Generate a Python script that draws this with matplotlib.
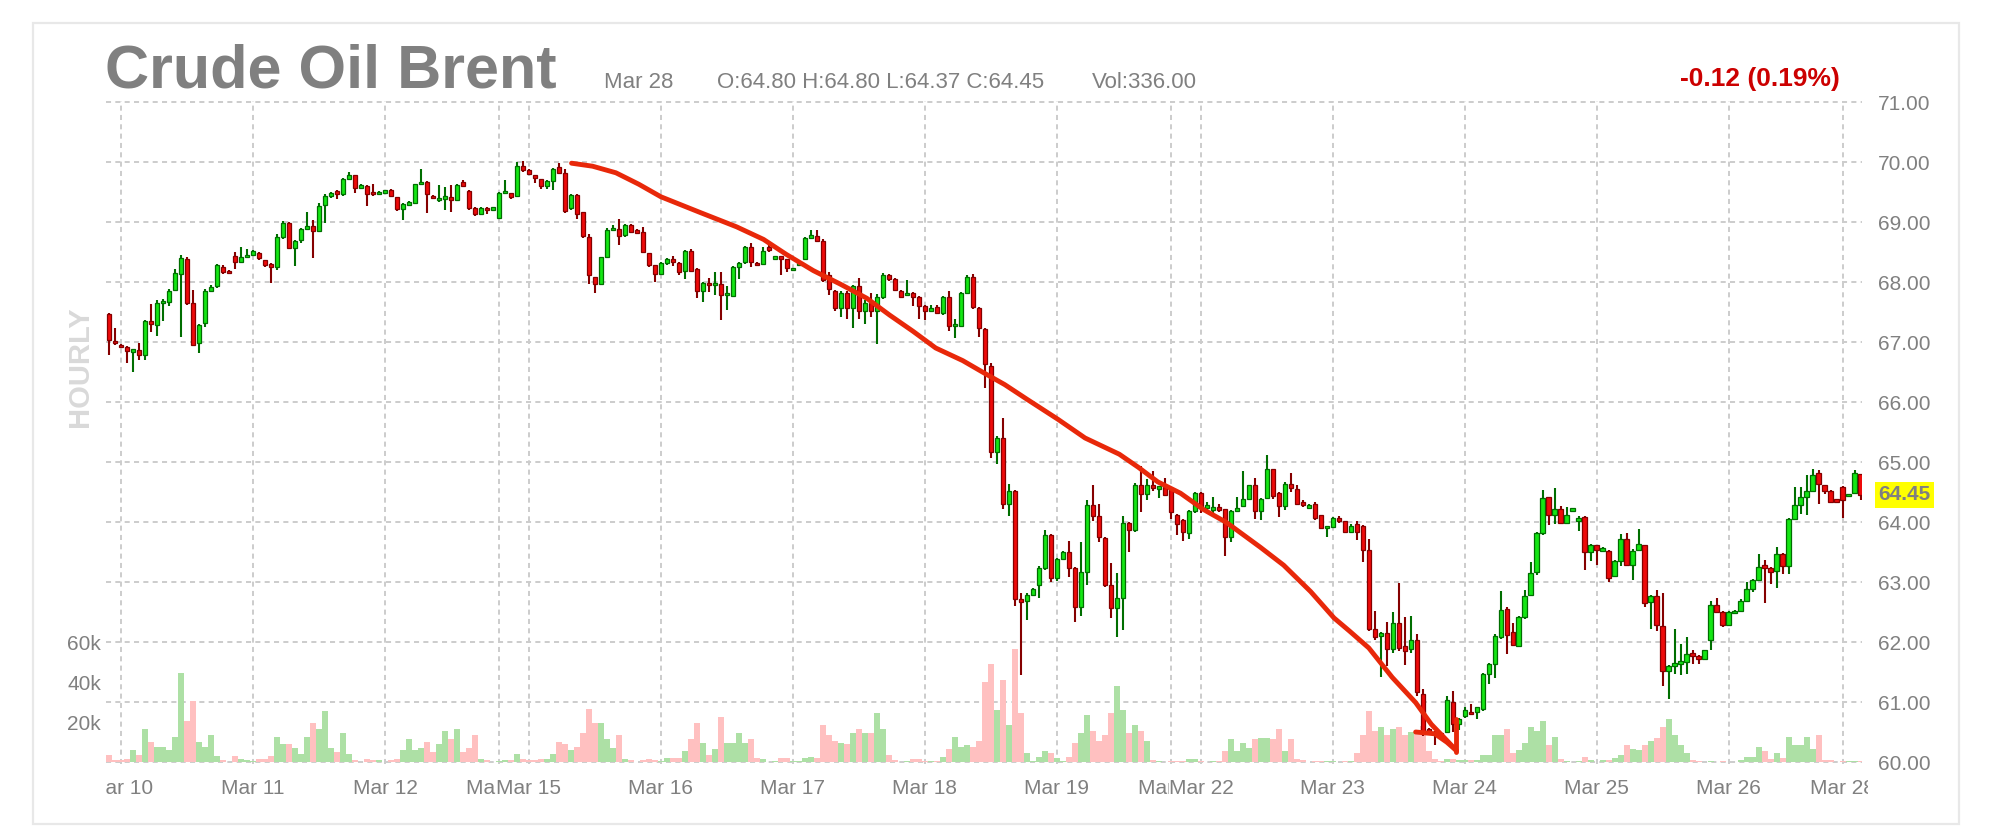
import matplotlib
matplotlib.use("Agg")
import matplotlib.pyplot as plt
from matplotlib.patches import Rectangle
import numpy as np

W, H = 2010, 840
plt.rcParams['font.family'] = ['Liberation Sans', 'DejaVu Sans']

# ---------------- data (hourly candles, index = hour slot) ----------------
opens = [
    67.46, 67.02, 66.95, 66.92, 66.84, 66.86, 66.78, 67.35, 67.28, 67.66,
    67.67, 67.87, 68.14, 68.38, 67.65, 66.98, 67.31, 67.85, 67.93, 68.25,
    68.18, 68.44, 68.34, 68.41, 68.45, 68.48, 68.36, 68.30, 68.25, 68.75,
    68.98, 68.57, 68.70, 68.88, 68.94, 68.85, 69.28, 69.44, 69.51, 69.47,
    69.72, 69.78, 69.57, 69.60, 69.49, 69.47, 69.50, 69.54, 69.41, 69.22,
    69.30, 69.32, 69.63, 69.67, 69.44, 69.38, 69.40, 69.42, 69.37, 69.66,
    69.52, 69.24, 69.14, 69.24, 69.22, 69.07, 69.49, 69.48, 69.44, 69.94,
    69.87, 69.78, 69.71, 69.60, 69.68, 69.91, 69.81, 69.23, 69.45, 69.16,
    68.75, 68.08, 67.97, 68.41, 68.86, 68.89, 68.78, 68.95, 68.85, 68.83,
    68.48, 68.28, 68.14, 68.31, 68.39, 68.31, 68.18, 68.52, 68.22, 67.85,
    67.98, 67.96, 67.97, 67.79, 67.77, 68.25, 68.34, 68.58, 68.32, 68.30,
    68.58, 68.40, 68.42, 68.38, 68.21, 68.28, 68.38, 68.74, 68.77, 68.68,
    68.12, 67.85, 67.57, 67.82, 67.57, 67.93, 67.51, 67.65, 67.51, 67.75,
    68.12, 68.05, 67.85, 67.79, 67.81, 67.75, 67.60, 67.51, 67.58, 67.48,
    67.75, 67.27, 67.27, 67.82, 68.08, 67.56, 67.22, 66.60, 65.16, 65.40,
    64.30, 64.51, 62.71, 62.68, 62.79, 62.95, 63.24, 63.78, 63.07, 63.38,
    63.50, 63.23, 62.59, 63.17, 64.28, 64.10, 63.73, 62.95, 62.56, 62.74,
    63.98, 63.86, 64.61, 64.47, 64.61, 64.57, 64.58, 64.56, 64.12, 64.03,
    63.81, 64.18, 64.48, 64.24, 64.22, 64.25, 64.21, 63.75, 64.18, 64.27,
    64.38, 64.61, 64.18, 64.40, 64.88, 64.49, 64.27, 64.64, 64.55, 64.32,
    64.23, 64.30, 64.11, 63.91, 63.92, 64.06, 64.01, 63.83, 63.96, 63.94,
    63.54, 62.21, 62.10, 62.15, 61.88, 62.32, 61.94, 61.88, 62.03, 61.14,
    60.55, 60.50, 60.47, 60.50, 61.00, 60.63, 60.77, 60.83, 60.83, 60.88,
    61.47, 61.63, 62.08, 62.55, 62.17, 61.93, 62.41, 62.78, 63.16, 63.81,
    64.41, 64.11, 64.21, 63.99, 64.20, 64.01, 64.08, 63.50, 63.61, 63.52,
    63.52, 63.10, 63.35, 63.71, 63.29, 63.53, 63.61, 62.66, 62.76, 62.26,
    61.52, 61.60, 61.65, 61.66, 61.82, 61.77, 61.72, 62.03, 62.62, 62.50,
    62.28, 62.50, 62.52, 62.69, 62.89, 63.03, 63.29, 63.24, 63.18, 63.46,
    63.27, 64.05, 64.28, 64.41, 64.52, 64.82, 64.61, 64.52, 64.38, 64.58,
    64.44, 64.49, 64.80,
]
highs = [
    67.48, 67.24, 66.96, 66.93, 66.88, 66.99, 67.36, 67.64, 67.70, 67.72,
    67.88, 68.22, 68.45, 68.42, 67.86, 67.30, 67.89, 67.95, 68.30, 68.28,
    68.20, 68.50, 68.59, 68.55, 68.53, 68.50, 68.37, 68.32, 68.80, 69.02,
    69.00, 68.70, 68.90, 69.16, 69.03, 69.32, 69.47, 69.50, 69.53, 69.73,
    69.83, 69.79, 69.64, 69.62, 69.63, 69.52, 69.53, 69.55, 69.42, 69.31,
    69.35, 69.64, 69.89, 69.68, 69.45, 69.62, 69.58, 69.62, 69.64, 69.70,
    69.53, 69.25, 69.25, 69.25, 69.24, 69.50, 69.70, 69.49, 70.00, 70.02,
    69.88, 69.79, 69.72, 69.70, 69.90, 69.99, 69.88, 69.47, 69.46, 69.17,
    68.80, 68.09, 68.42, 68.90, 68.95, 69.05, 68.97, 68.97, 68.88, 68.91,
    68.49, 68.29, 68.33, 68.40, 68.43, 68.33, 68.53, 68.55, 68.24, 68.00,
    68.07, 68.16, 68.16, 67.93, 68.27, 68.33, 68.60, 68.65, 68.33, 68.58,
    68.65, 68.42, 68.43, 68.39, 68.23, 68.33, 68.75, 68.87, 68.86, 68.72,
    68.16, 67.87, 67.85, 67.85, 67.95, 68.06, 67.70, 67.82, 67.80, 68.15,
    68.14, 68.06, 67.86, 68.03, 67.83, 67.76, 67.61, 67.62, 67.62, 67.76,
    67.85, 67.38, 67.83, 68.12, 68.14, 67.58, 67.24, 66.65, 65.43, 65.74,
    64.64, 64.53, 62.82, 62.82, 62.90, 63.26, 63.87, 63.80, 63.40, 63.52,
    63.69, 63.25, 63.66, 64.36, 64.61, 64.30, 63.75, 63.32, 63.15, 64.10,
    64.00, 64.65, 64.94, 64.71, 64.85, 64.58, 64.73, 64.58, 64.14, 64.05,
    64.20, 64.50, 64.50, 64.33, 64.42, 64.30, 64.22, 64.20, 64.42, 64.85,
    64.62, 64.73, 64.40, 65.12, 64.89, 64.50, 64.66, 64.82, 64.61, 64.36,
    64.30, 64.33, 64.12, 63.93, 64.08, 64.10, 64.02, 63.96, 64.01, 63.95,
    63.71, 62.52, 62.16, 62.33, 62.50, 62.98, 62.41, 62.43, 62.14, 61.21,
    60.57, 60.52, 60.50, 61.10, 61.18, 60.74, 60.91, 60.96, 60.92, 61.48,
    61.65, 62.13, 62.85, 62.58, 62.32, 62.43, 62.87, 63.34, 63.83, 64.53,
    64.42, 64.56, 64.27, 64.25, 64.22, 64.10, 64.10, 63.63, 63.62, 63.58,
    63.53, 63.37, 63.80, 63.82, 63.55, 63.88, 63.62, 62.78, 62.87, 62.82,
    61.62, 62.22, 61.97, 62.09, 61.86, 61.78, 61.87, 62.69, 62.73, 62.51,
    62.52, 62.54, 62.71, 63.00, 63.05, 63.46, 63.37, 63.25, 63.59, 63.48,
    64.07, 64.58, 64.58, 64.78, 64.88, 64.86, 64.62, 64.53, 64.39, 64.60,
    64.47, 64.86, 64.80,
]
lows = [
    66.78, 66.95, 66.90, 66.65, 66.50, 66.70, 66.70, 67.17, 67.10, 67.35,
    67.60, 67.85, 67.08, 67.62, 66.94, 66.81, 67.25, 67.83, 67.90, 68.13,
    68.15, 68.22, 68.33, 68.40, 68.44, 68.36, 68.25, 67.99, 68.20, 68.72,
    68.55, 68.26, 68.65, 68.86, 68.40, 68.84, 68.98, 69.40, 69.38, 69.44,
    69.70, 69.49, 69.55, 69.27, 69.43, 69.45, 69.49, 69.42, 69.18, 69.03,
    69.28, 69.30, 69.62, 69.15, 69.38, 69.34, 69.20, 69.16, 69.36, 69.58,
    69.20, 69.10, 69.12, 69.13, 69.21, 69.06, 69.48, 69.38, 69.42, 69.84,
    69.78, 69.65, 69.55, 69.55, 69.53, 69.80, 69.15, 69.20, 69.05, 68.74,
    67.96, 67.82, 67.96, 68.40, 68.85, 68.61, 68.75, 68.82, 68.80, 68.48,
    68.25, 68.00, 68.12, 68.29, 68.26, 68.12, 68.05, 68.17, 67.73, 67.66,
    67.84, 67.79, 67.36, 67.54, 67.75, 68.05, 68.30, 68.25, 68.27, 68.28,
    68.50, 68.38, 68.12, 68.16, 68.18, 68.26, 68.36, 68.73, 68.67, 68.00,
    67.79, 67.51, 67.42, 67.39, 67.24, 67.39, 67.30, 67.42, 66.96, 67.72,
    68.02, 67.85, 67.73, 67.76, 67.60, 67.38, 67.36, 67.50, 67.46, 67.45,
    67.18, 67.07, 67.25, 67.80, 67.55, 67.08, 66.23, 65.06, 64.96, 64.21,
    64.10, 62.60, 61.45, 62.37, 62.77, 62.73, 63.20, 63.00, 63.02, 63.36,
    63.08, 62.34, 62.43, 62.95, 64.02, 63.67, 62.92, 62.40, 62.08, 62.20,
    63.50, 63.84, 64.16, 64.36, 64.51, 64.40, 64.43, 64.05, 63.78, 63.69,
    63.72, 64.15, 64.15, 64.15, 64.09, 64.16, 63.44, 63.66, 64.16, 64.26,
    64.36, 64.05, 64.03, 64.38, 64.39, 64.08, 64.20, 64.50, 64.28, 64.25,
    64.22, 64.04, 63.88, 63.75, 63.90, 63.99, 63.81, 63.82, 63.70, 63.33,
    62.18, 62.03, 61.42, 61.60, 61.82, 61.85, 61.62, 61.82, 61.10, 60.44,
    60.48, 60.28, 60.40, 60.48, 60.50, 60.54, 60.74, 60.78, 60.71, 60.85,
    61.30, 61.40, 62.05, 61.80, 61.93, 61.92, 62.38, 62.77, 63.12, 63.79,
    63.95, 63.97, 63.96, 63.98, 64.19, 63.85, 63.20, 63.35, 63.28, 63.50,
    63.00, 63.08, 63.26, 63.27, 63.03, 63.52, 62.59, 62.22, 62.18, 61.27,
    61.05, 61.46, 61.45, 61.47, 61.64, 61.63, 61.70, 61.86, 62.48, 62.25,
    62.26, 62.46, 62.50, 62.68, 62.84, 63.02, 62.65, 62.96, 62.90, 63.13,
    63.14, 64.03, 64.14, 64.12, 64.50, 64.30, 64.47, 64.33, 64.33, 64.06,
    64.43, 64.47, 64.37,
]
closes = [
    67.04, 66.98, 66.91, 66.85, 66.87, 66.78, 67.35, 67.30, 67.65, 67.68,
    67.85, 68.15, 68.40, 67.65, 66.95, 67.29, 67.85, 67.92, 68.28, 68.17,
    68.16, 68.34, 68.41, 68.45, 68.51, 68.40, 68.28, 68.25, 68.75, 68.98,
    68.57, 68.68, 68.88, 68.94, 68.85, 69.27, 69.44, 69.48, 69.46, 69.71,
    69.78, 69.57, 69.62, 69.47, 69.47, 69.50, 69.51, 69.44, 69.22, 69.30,
    69.32, 69.63, 69.67, 69.47, 69.40, 69.39, 69.42, 69.37, 69.62, 69.60,
    69.24, 69.14, 69.24, 69.20, 69.23, 69.48, 69.51, 69.42, 69.94, 69.86,
    69.80, 69.73, 69.60, 69.68, 69.88, 69.82, 69.19, 69.45, 69.14, 68.76,
    68.11, 67.97, 68.41, 68.86, 68.90, 68.77, 68.95, 68.84, 68.83, 68.50,
    68.28, 68.14, 68.31, 68.39, 68.34, 68.16, 68.52, 68.19, 67.85, 67.99,
    67.95, 67.98, 67.79, 67.80, 68.25, 68.32, 68.58, 68.34, 68.28, 68.52,
    68.53, 68.41, 68.39, 68.24, 68.22, 68.32, 68.74, 68.77, 68.68, 68.03,
    67.88, 67.57, 67.82, 67.57, 67.93, 67.51, 67.65, 67.51, 67.75, 68.12,
    68.05, 67.87, 67.75, 67.81, 67.75, 67.60, 67.51, 67.57, 67.48, 67.75,
    67.27, 67.30, 67.82, 68.09, 67.58, 67.24, 66.63, 65.16, 65.40, 64.30,
    64.51, 62.71, 62.68, 62.79, 62.89, 63.24, 63.78, 63.07, 63.38, 63.50,
    63.23, 62.59, 63.17, 64.28, 64.10, 63.75, 62.95, 62.56, 62.74, 63.98,
    63.86, 64.61, 64.47, 64.61, 64.57, 64.58, 64.45, 64.16, 63.97, 63.84,
    64.18, 64.48, 64.24, 64.28, 64.23, 64.20, 63.75, 64.18, 64.24, 64.38,
    64.61, 64.18, 64.39, 64.88, 64.44, 64.27, 64.64, 64.57, 64.30, 64.30,
    64.29, 64.06, 63.90, 63.92, 64.06, 64.01, 63.83, 63.94, 63.84, 63.54,
    62.21, 62.08, 62.15, 61.88, 62.32, 61.90, 61.85, 62.03, 61.16, 60.50,
    60.50, 60.47, 60.45, 61.03, 60.63, 60.72, 60.86, 60.81, 60.91, 61.46,
    61.63, 62.10, 62.54, 62.11, 61.95, 62.41, 62.76, 63.15, 63.81, 64.40,
    64.11, 64.21, 63.99, 64.11, 64.21, 64.07, 63.50, 63.61, 63.53, 63.56,
    63.07, 63.35, 63.71, 63.29, 63.52, 63.64, 62.65, 62.76, 62.28, 61.52,
    61.60, 61.65, 61.66, 61.80, 61.77, 61.72, 61.86, 62.62, 62.50, 62.28,
    62.50, 62.51, 62.69, 62.89, 63.03, 63.25, 63.24, 63.16, 63.46, 63.27,
    64.05, 64.28, 64.41, 64.52, 64.78, 64.64, 64.51, 64.34, 64.34, 64.36,
    64.46, 64.82, 64.45,
]
volume_k = [
    3.6, 0.8, 0.8, 1.6, 5.8, 3.6, 16.6, 9.9, 7.7, 7.7,
    5.8, 12.7, 44.3, 20.6, 30.3, 9.9, 7.7, 13.7, 2.8, 0.8,
    0.2, 2.8, 1.6, 0.8, 0.3, 1.6, 1.6, 2.8, 12.7, 8.9,
    8.9, 6.8, 3.8, 12.7, 19.6, 16.6, 25.5, 6.8, 4.9, 14.7,
    3.8, 0.8, 0.2, 1.6, 0.8, 0.8, 0.2, 0.8, 1.6, 5.8,
    11.7, 5.8, 6.8, 9.9, 4.9, 8.9, 15.7, 11.7, 16.6, 4.9,
    6.8, 13.7, 1.6, 0.8, 0.2, 0.3, 0.8, 0.8, 3.8, 1.6,
    0.8, 0.8, 1.6, 1.6, 3.8, 9.9, 8.9, 5.8, 7.7, 14.7,
    26.5, 19.6, 19.6, 11.7, 6.8, 13.7, 1.6, 0.8, 0.2, 0.8,
    1.6, 0.8, 0.5, 1.8, 1.8, 1.8, 5.5, 11.5, 19.4, 9.5,
    3.3, 6.6, 22.3, 9.5, 9.5, 14.4, 9.5, 11.3, 1.8, 1.5,
    0.2, 0.5, 1.8, 1.8, 0.5, 0.5, 1.8, 2.4, 1.8, 18.5,
    13.3, 10.6, 9.5, 8.8, 14.6, 16.5, 14.6, 14.6, 24.3, 16.5,
    3.3, 1.1, 0.2, 0.5, 1.5, 1.5, 0.5, 0.5, 0.5, 2.4,
    6.6, 12.4, 7.3, 8.4, 7.3, 10.6, 40.2, 49.0, 26.1, 41.1,
    18.3, 56.7, 24.3, 4.6, 0.3, 2.4, 5.5, 4.6, 1.8, 0.5,
    2.4, 9.5, 14.6, 23.4, 15.5, 10.6, 13.3, 24.3, 38.0, 26.1,
    14.6, 18.3, 15.5, 10.6, 1.1, 0.5, 0.2, 0.5, 0.5, 0.5,
    1.5, 1.5, 0.5, 0.2, 0.5, 0.5, 5.5, 11.5, 5.5, 9.5,
    6.9, 11.5, 12.1, 12.1, 11.4, 16.3, 5.5, 11.4, 1.7, 0.8,
    0.2, 0.5, 0.5, 0.5, 0.5, 0.2, 0.5, 0.5, 4.5, 13.3,
    25.4, 15.3, 17.4, 13.3, 16.6, 17.4, 13.3, 14.9, 14.9, 18.0,
    5.5, 1.7, 0.3, 1.7, 1.7, 0.8, 0.8, 0.8, 0.8, 3.3,
    3.3, 13.3, 13.3, 16.3, 4.5, 6.1, 9.5, 17.4, 15.4, 20.4,
    8.3, 12.4, 1.7, 0.5, 0.2, 0.5, 2.5, 0.8, 0.2, 0.8,
    0.8, 2.2, 3.3, 8.3, 6.3, 5.8, 8.3, 10.4, 12.1, 17.4,
    21.6, 13.3, 8.3, 4.5, 0.8, 0.5, 0.2, 0.5, 0.2, 0.5,
    0.2, 0.2, 0.8, 2.5, 2.5, 7.5, 5.5, 1.7, 4.5, 2.2,
    12.4, 8.3, 8.3, 12.4, 6.6, 13.3, 1.2, 1.2, 0.2, 0.3,
    0.3, 0.3, 0.3,
]

date_tick_pos = [2, 24, 46, 65, 70, 92, 114, 136, 158, 177, 182, 204, 226, 248, 270, 289]
date_labels = ["Mar 10", "Mar 11", "Mar 12", "Mar 14", "Mar 15", "Mar 16", "Mar 17",
               "Mar 18", "Mar 19", "Mar 21", "Mar 22", "Mar 23", "Mar 24", "Mar 25",
               "Mar 26", "Mar 28"]
price_ticks = [60, 61, 62, 63, 64, 65, 66, 67, 68, 69, 70, 71]
vol_ticks = [20, 40, 60]
vol_tick_labels = ["20k", "40k", "60k"]

# hand drawn trend line (candle index, price)
trend_x = [77.1, 80.6, 84.5, 88.3, 92.0, 95.5, 98.5, 104.6, 109.1, 112.9, 117.4, 121.8,
           126.3, 130.1, 134.0, 137.8, 142.3, 146.1, 149.3, 153.1, 158.2, 162.7, 168.4,
           171.6, 174.8, 178.6, 182.4, 186.3, 191.9, 195.8, 200.3, 204.2, 206.8, 210.0,
           213.9, 217.8, 220.4, 223.0, 224.6]
trend_y = [69.98, 69.93, 69.82, 69.63, 69.42, 69.28, 69.16, 68.92, 68.71, 68.46, 68.19, 67.97,
           67.73, 67.45, 67.18, 66.90, 66.69, 66.47, 66.29, 66.04, 65.71, 65.40, 65.13,
           64.91, 64.67, 64.48, 64.21, 63.99, 63.58, 63.28, 62.84, 62.40, 62.18, 61.90,
           61.41, 60.99, 60.63, 60.36, 60.19]
arrow_a_x = [217.8, 221.0, 223.0, 224.6]
arrow_a_y = [60.50, 60.47, 60.33, 60.19]
arrow_b_x = [224.6, 224.6]
arrow_b_y = [60.72, 60.17]

last_price = 64.45

# ---------------- styling ----------------
GREY = '#808080'
GRID = '#cccccc'
G_FILL, G_EDGE = '#14e614', '#006e00'
R_FILL, R_EDGE = '#ee0a0a', '#850000'
VG, VR = '#ade0a5', '#ffc0c0'

fig = plt.figure(figsize=(W / 100, H / 100), dpi=100)
fig.patch.set_facecolor('white')

# outer frame
fig.patches.append(Rectangle((33 / W, 1 - 824 / H), (1959 - 33) / W, (824 - 23) / H,
                             transform=fig.transFigure, fill=False,
                             edgecolor='#e8e8e8', lw=1.6))

left_px, right_px = 106, 1862
ymin, ymax = 59.96, 71.02
top_px = 762 - (ymax - 60) * 60
bot_px = 762 - (ymin - 60) * 60
rect = [left_px / W, 1 - bot_px / H, (right_px - left_px) / W, (bot_px - top_px) / H]

ax_g = fig.add_axes(rect)
ax_v = ax_g.twinx()
ax_p = ax_g.twinx()
ax_g.set_zorder(0)
ax_v.set_zorder(1)
ax_p.set_zorder(2)
ax_v.patch.set_visible(False)
ax_p.patch.set_visible(False)

n = min(len(opens), len(highs), len(lows), len(closes), len(volume_k))
x = np.arange(n)
o = np.array(opens[:n]); h = np.array(highs[:n]); l = np.array(lows[:n]); c = np.array(closes[:n])
up = c >= o

ax_g.set_xlim(-0.5, 292.2)
ax_g.set_ylim(ymin, ymax)
ax_p.set_ylim(ymin, ymax)
ax_v.set_ylim((ymin - 60) * 30, (ymax - 60) * 30)

for a in (ax_g, ax_v, ax_p):
    for s in a.spines.values():
        s.set_visible(False)

# grid
ax_g.set_xticks(date_tick_pos)
ax_g.set_yticks(price_ticks)
ax_g.tick_params(length=0, labelbottom=False, labelleft=False)
ax_g.grid(True, color=GRID, linestyle=(0, (2.6, 2.2)), linewidth=1.4)

# volume
ax_v.bar(x, volume_k[:n], width=1.0, color=np.where(up, VG, VR), linewidth=0)
ax_v.yaxis.tick_left()
ax_v.set_yticks(vol_ticks)
ax_v.set_yticklabels(vol_tick_labels)
ax_v.tick_params(axis='y', length=0, pad=3.5, labelsize=15, labelcolor=GREY)
ax_v.tick_params(axis='x', length=0, labelbottom=False)

# candles
ax_p.vlines(x, l, h, colors=np.where(up, G_EDGE, R_EDGE), linewidth=1.5, zorder=2)
body_h = np.maximum(np.abs(c - o), 0.04)
mid = (o + c) / 2
ax_p.bar(x, body_h, bottom=mid - body_h / 2, width=0.78,
         color=np.where(up, G_FILL, R_FILL), edgecolor=np.where(up, G_EDGE, R_EDGE),
         linewidth=0.9, zorder=3)

# trend line + arrow
line_kw = dict(color='#e8280a', lw=3.5, solid_capstyle='round', solid_joinstyle='round', zorder=6)
ax_p.plot(trend_x, trend_y, **line_kw)
ax_p.plot(arrow_a_x, arrow_a_y, **line_kw)
ax_p.plot(arrow_b_x, arrow_b_y, **line_kw)

# right price labels
ax_p.set_yticks(price_ticks)
ax_p.set_yticklabels([f"{p:.2f}" for p in price_ticks])
ax_p.tick_params(axis='y', length=0, pad=11.5, labelsize=15, labelcolor=GREY)
ax_p.tick_params(axis='x', length=0, labelbottom=False)
ax_p.annotate(f"{last_price:.2f}", xy=(1, last_price), xycoords=('axes fraction', 'data'),
              xytext=(11.8, 0), textcoords='offset points', ha='left', va='center',
              fontsize=15, fontweight='bold', color=GREY, annotation_clip=False,
              bbox=dict(boxstyle='square,pad=0.16', fc='#ffff00', ec='none'), zorder=10)

# x labels (manual so they can be clipped / overlap like the original)
clip_rect = Rectangle((left_px / W, 0), (1868 - left_px) / W, 0.2, transform=fig.transFigure)
x0, x1 = ax_g.get_xlim()
for k, (pos, lab) in enumerate(zip(date_tick_pos, date_labels)):
    xf = rect[0] + (pos - x0) / (x1 - x0) * rect[2]
    t = fig.text(xf, 1 - 788 / H, lab, ha='center', va='center', fontsize=15, color=GREY,
                 zorder=5 + k, bbox=dict(fc='white', ec='none', pad=0))
    t.set_clip_path(clip_rect)

# headers
fig.text(105 / W, 1 - 87 / H, "Crude Oil Brent", fontsize=44, fontweight='bold',
         color=GREY, ha='left', va='baseline')
fig.text(604 / W, 1 - 88 / H, "Mar 28", fontsize=16, color=GREY, ha='left', va='baseline')
fig.text(717 / W, 1 - 88 / H, "O:64.80 H:64.80 L:64.37 C:64.45", fontsize=16, color=GREY,
         ha='left', va='baseline')
fig.text(1092 / W, 1 - 88 / H, "Vol:336.00", fontsize=16, color=GREY, ha='left', va='baseline')
fig.text(1840 / W, 1 - 86 / H, "-0.12 (0.19%)", fontsize=19, fontweight='bold',
         color='#cc0000', ha='right', va='baseline')
fig.text(80 / W, 1 - 367 / H, "HOURLY", rotation=90, ha='center', va='center',
         fontsize=21, fontweight='bold', color='#d9d9d9')

fig.savefig('out.png', dpi=100)
